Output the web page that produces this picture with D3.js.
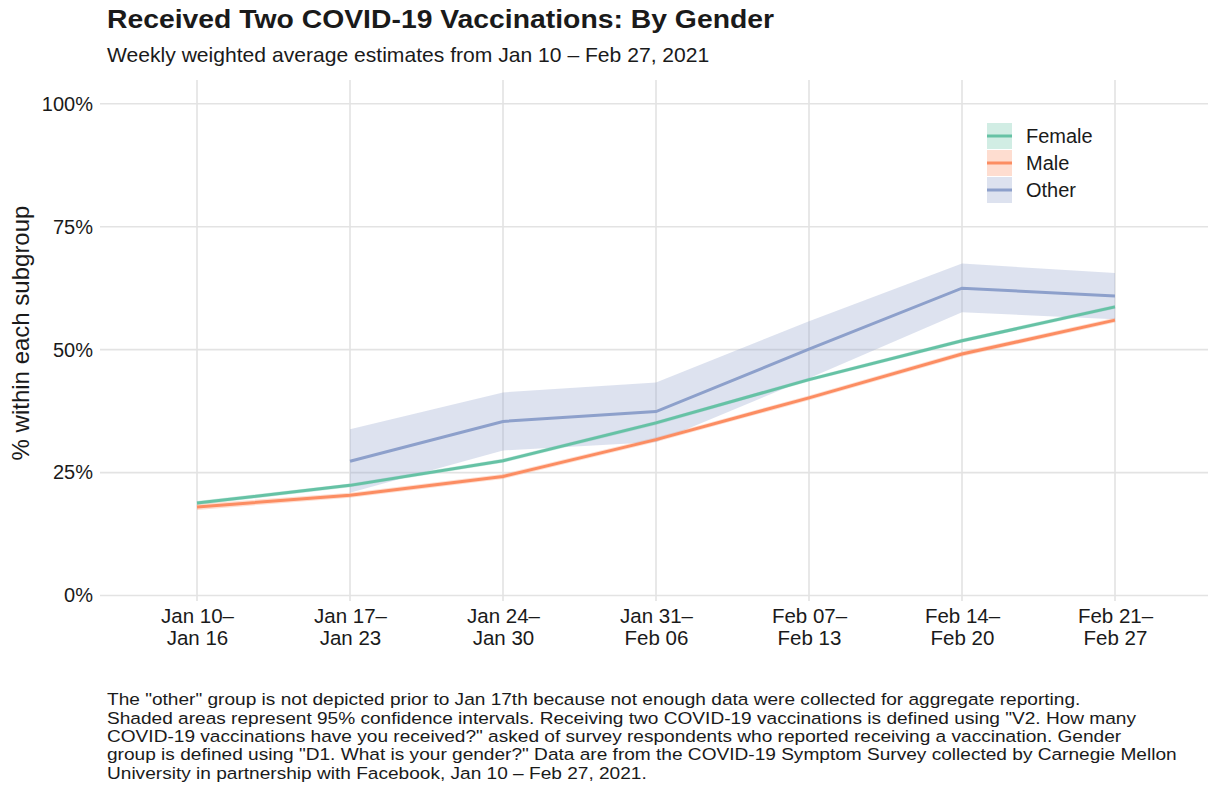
<!DOCTYPE html>
<html>
<head>
<meta charset="utf-8">
<script src="https://cdn.jsdelivr.net/npm/d3@7"></script>
<style>
  html, body { margin: 0; padding: 0; background: #fff; }
  text { font-family: "Liberation Sans", Arial, Helvetica, sans-serif; fill: #1a1a1a; }
</style>
</head>
<body>
<svg id="chart" width="1208" height="789"></svg>
<script>
const weeks = ["Jan 10–|Jan 16", "Jan 17–|Jan 23", "Jan 24–|Jan 30", "Jan 31–|Feb 06", "Feb 07–|Feb 13", "Feb 14–|Feb 20", "Feb 21–|Feb 27"];
const groups = ["Female", "Male", "Other"];
const colors = ["#66c2a5", "#fc8d62", "#8da0cb"];

const femaleVal = [18.8, 22.4, 27.4, 35.1, 43.9, 51.8, 58.7];
const femaleLow = [18.4, 22.0, 27.0, 34.7, 43.5, 51.4, 58.3];
const femaleHigh = [19.2, 22.8, 27.8, 35.5, 44.3, 52.2, 59.1];

const maleVal = [18.0, 20.4, 24.2, 31.7, 40.2, 49.1, 56.0];
const maleLow = [17.4, 19.9, 23.7, 31.2, 39.7, 48.6, 55.5];
const maleHigh = [18.6, 20.9, 24.7, 32.2, 40.7, 49.6, 56.5];

const otherVal = [null, 27.3, 35.4, 37.4, 50.1, 62.5, 60.9];
const otherLow = [null, 20.9, 29.5, 31.2, 44.2, 57.6, 56.2];
const otherHigh = [null, 33.8, 41.3, 43.3, 55.8, 67.5, 65.6];

const yTicks = [0, 25, 50, 75, 100];

const title = "Received Two COVID-19 Vaccinations: By Gender";
const subtitle = "Weekly weighted average estimates from Jan 10 – Feb 27, 2021";
const yTitle = "% within each subgroup";
const captionLines = [
  "The \"other\" group is not depicted prior to Jan 17th because not enough data were collected for aggregate reporting.",
  "Shaded areas represent 95% confidence intervals. Receiving two COVID-19 vaccinations is defined using \"V2. How many",
  "COVID-19 vaccinations have you received?\" asked of survey respondents who reported receiving a vaccination. Gender",
  "group is defined using \"D1. What is your gender?\" Data are from the COVID-19 Symptom Survey collected by Carnegie Mellon",
  "University in partnership with Facebook, Jan 10 – Feb 27, 2021."
];

const series = [
  { name: groups[0], color: colors[0], val: femaleVal, lo: femaleLow, hi: femaleHigh },
  { name: groups[1], color: colors[1], val: maleVal, lo: maleLow, hi: maleHigh },
  { name: groups[2], color: colors[2], val: otherVal, lo: otherLow, hi: otherHigh }
];

const svg = d3.select("#chart");
const panel = { left: 100, right: 1208, top: 80, bottom: 601 };

const x = d3.scalePoint().domain(weeks).range([197, 1115]);
const y = d3.scaleLinear().domain([0, 100]).range([595.5, 103.8]);

// gridlines
const grid = svg.append("g");
grid.selectAll("line.h").data(yTicks).join("line")
  .attr("x1", panel.left).attr("x2", panel.right)
  .attr("y1", d => y(d)).attr("y2", d => y(d))
  .attr("stroke", "#e3e3e3").attr("stroke-width", 1.6);
grid.selectAll("line.v").data(weeks).join("line")
  .attr("x1", d => x(d)).attr("x2", d => x(d))
  .attr("y1", panel.top).attr("y2", panel.bottom)
  .attr("stroke", "#e3e3e3").attr("stroke-width", 1.6);

// y axis
const yAxis = d3.axisLeft(y).tickValues(yTicks).tickFormat(d => d + "%").tickSize(0).tickPadding(7);
const yg = svg.append("g").attr("transform", `translate(${panel.left},0)`).call(yAxis);
yg.select(".domain").remove();
yg.selectAll("text").attr("font-size", 20).attr("fill", "#1a1a1a")
  .attr("font-family", "Liberation Sans, Arial, sans-serif");

// x axis
const xAxis = d3.axisBottom(x).tickSize(0).tickFormat("");
const xg = svg.append("g").attr("transform", `translate(0,${panel.bottom})`).call(xAxis);
xg.select(".domain").remove();
xg.selectAll(".tick").each(function(d) {
  const parts = d.split("|");
  const t = d3.select(this).append("text")
    .attr("text-anchor", "middle").attr("font-size", 20.5).attr("fill", "#1a1a1a")
    .attr("font-family", "Liberation Sans, Arial, sans-serif");
  t.append("tspan").attr("x", 0).attr("y", 22).text(parts[0]);
  t.append("tspan").attr("x", 0).attr("y", 44).text(parts[1]);
});

// ribbons
const area = d3.area()
  .defined(d => d.lo != null)
  .x(d => x(d.w)).y0(d => y(d.lo)).y1(d => y(d.hi));
const line = d3.line()
  .defined(d => d.v != null)
  .x(d => x(d.w)).y(d => y(d.v));

series.forEach(s => {
  const pts = weeks.map((w, i) => ({ w, v: s.val[i], lo: s.lo[i], hi: s.hi[i] }));
  svg.append("path").datum(pts).attr("d", area).attr("fill", s.color).attr("fill-opacity", 0.3).attr("stroke", "none");
});
series.forEach(s => {
  const pts = weeks.map((w, i) => ({ w, v: s.val[i] }));
  svg.append("path").datum(pts).attr("d", line).attr("fill", "none")
    .attr("stroke", s.color).attr("stroke-width", 3);
});

// legend
const lg = svg.append("g").attr("transform", "translate(987,123)");
series.forEach((s, i) => {
  const g = lg.append("g").attr("transform", `translate(0,${i * 27})`);
  g.append("rect").attr("width", 25).attr("height", 26).attr("fill", s.color).attr("fill-opacity", 0.3);
  g.append("line").attr("x1", 0).attr("x2", 25).attr("y1", 13).attr("y2", 13)
    .attr("stroke", s.color).attr("stroke-width", 3);
  g.append("text").attr("x", 39).attr("y", 20).attr("font-size", 20).text(s.name);
});

// y title
svg.append("text").attr("transform", "translate(29,333) rotate(-90)")
  .attr("text-anchor", "middle").attr("font-size", 24).text(yTitle);

// titles
svg.append("text").attr("transform", "translate(107,27.7) scale(1.09,1)")
  .attr("font-size", 26).attr("font-weight", "bold").text(title);
svg.append("text").attr("x", 107).attr("y", 62).attr("font-size", 21.1).text(subtitle);

// caption
const cap = svg.append("text").attr("transform", "translate(107,0) scale(1.123,1)").attr("font-size", 17);
captionLines.forEach((l, i) => {
  cap.append("tspan").attr("x", 0).attr("y", 705.5 + i * 18.3).text(l);
});
</script>
</body>
</html>
